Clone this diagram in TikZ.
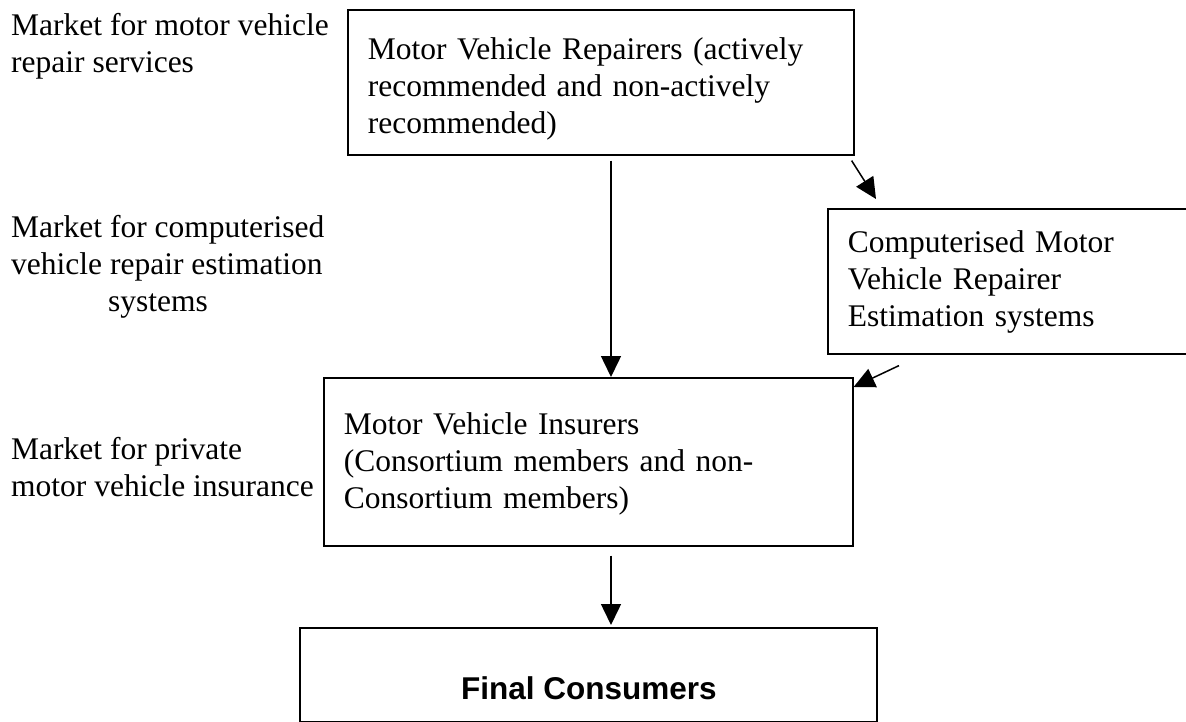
\documentclass[tikz,border=0pt]{standalone}
\usepackage{fontspec}
\setmainfont{Liberation Serif}
\newfontfamily\headsans{Liberation Sans}
\usetikzlibrary{arrows.meta,calc}
\newcommand\topgap[1]{\rule{0pt}{#1}}
\begin{document}
\begin{tikzpicture}[x=1pt,y=-1pt,
  every node/.style={font=\fontsize{31.5}{37}\selectfont},
  box/.style={draw, line width=1.6pt, rectangle, anchor=north west,
    inner xsep=20pt, inner ysep=0pt, align=left},
  lbl/.style={anchor=north west, inner sep=0pt, align=left},
  arr/.style={-{Triangle[length=21pt,width=20pt]}, line width=1.5pt}]
\useasboundingbox (0,0) rectangle (1186,722);

% left market labels
\node[lbl] (l1) at (11,9) {\strut Market for motor vehicle\\repair services};
\node[lbl] (l2) at (11,211) {\strut Market for computerised\\vehicle repair estimation\\\hspace*{97pt}systems};
\node[lbl] (l3) at (11,433) {\strut Market for private\\motor vehicle insurance};

% boxes
\node[box, text width=466pt, minimum height=145pt] (rep) at (347,9)
  {\topgap{35pt}Motor Vehicle Repairers (actively\\recommended and non-actively\\recommended)};
\node[box, text width=321pt, minimum height=145pt] (cest) at (827,208)
  {\topgap{23pt}Computerised Motor\\Vehicle Repairer\\Estimation systems};
\node[box, text width=489pt, minimum height=168pt] (ins) at (323,377)
  {\strut Motor Vehicle Insurers\\(Consortium members and non-\\Consortium members)};
\node[box, inner sep=0pt, minimum width=577pt, minimum height=94pt] (fin) at (299,627) {};
\node[anchor=base, inner sep=0pt, font=\headsans\bfseries\fontsize{31.5}{37}\selectfont] (fintext) at (589,699) {Final Consumers};

% connectors
\coordinate (ax) at (611,0);
\draw[arr] ($(rep.south -| ax)+(0,5)$) -- (ins.north -| ax);
\draw[arr] ($(rep.south east)+(-3,5)$) -- ($(cest.north west)+(49,-9)$);
\draw[arr] ($(cest.south west)+(72,11)$) -- ($(ins.north east)+(0,10)$);
\draw[arr] ($(ins.south -| ax)+(0,9)$) -- ($(fin.north -| ax)+(0,-2)$);
\end{tikzpicture}
\end{document}
